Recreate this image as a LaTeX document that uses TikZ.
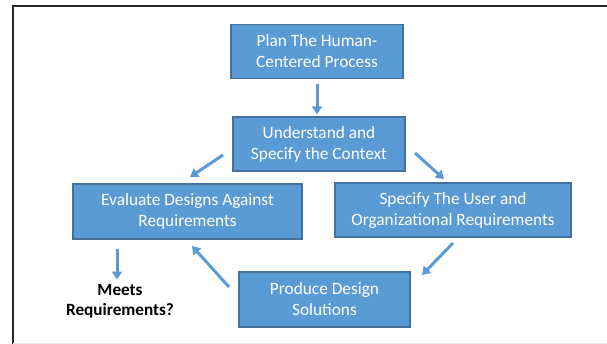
\documentclass[tikz,border=0pt]{standalone}
\usepackage{fontspec}
\setmainfont{Carlito}
\usetikzlibrary{arrows.meta}
\definecolor{boxfill}{HTML}{5B9BD5}
\definecolor{boxline}{HTML}{41719C}
\definecolor{arrowcol}{HTML}{5B9BD5}
\begin{document}
\begin{tikzpicture}[x=1pt,y=-1pt,
  stepbox/.style={draw=boxline, line width=1.2pt, fill=boxfill, text=white,
    align=center, inner sep=0pt, minimum height=54pt,
    font=\fontsize{17.3}{21}\selectfont},
  flow/.style={draw=arrowcol, line width=3pt,
    -{Triangle[width=10pt,length=8pt]}}
]
\useasboundingbox (0,0) rectangle (607,344);
% page frame
\draw[line width=2pt, black!85] (13,344) -- (13,6) -- (607,6);
\draw[line width=0.6pt, black!8] (13,343.5) -- (607,343.5);

% process steps
\node[stepbox, minimum width=172pt] (plan) at (317,51.5) {Plan The Human-\\Centered Process};
\node[stepbox, minimum width=172pt] (ctx) at (319,144) {Understand and\\Specify the Context};
\node[stepbox, minimum width=229pt, minimum height=55pt] (eval) at (187.5,211.5) {Evaluate Designs Against\\Requirements};
\node[stepbox, minimum width=236pt] (req) at (453,210) {Specify The User and\\Organizational Requirements};
\node[stepbox, minimum width=171pt, minimum height=55pt] (prod) at (324.5,299.5) {Produce Design\\Solutions};
\node[font=\fontsize{17.2}{20}\selectfont\bfseries, align=center] (meets) at (120,301) {Meets\\Requirements?};

% arrow end points between the steps
\coordinate (a2s) at (223,155);
\coordinate (a2e) at (190,177);
\coordinate (a3s) at (415,153);
\coordinate (a3e) at (444,179);
\coordinate (a4s) at (453,243);
\coordinate (a4e) at (422,275);
\coordinate (a5s) at (229,287);
\coordinate (a5e) at (192,246);

\draw[flow, shorten <=5pt, shorten >=2pt] (plan.south) -- (plan.south |- ctx.north);
\draw[flow] (a2s) -- (a2e);
\draw[flow] (a3s) -- (a3e);
\draw[flow] (a4s) -- (a4e);
\draw[flow] (a5s) -- (a5e);
\draw[flow, shorten <=9pt, shorten >=1pt] (eval.south -| meets.north) ++(-3,0) coordinate (a6s) -- (a6s |- meets.north);
\end{tikzpicture}
\end{document}
